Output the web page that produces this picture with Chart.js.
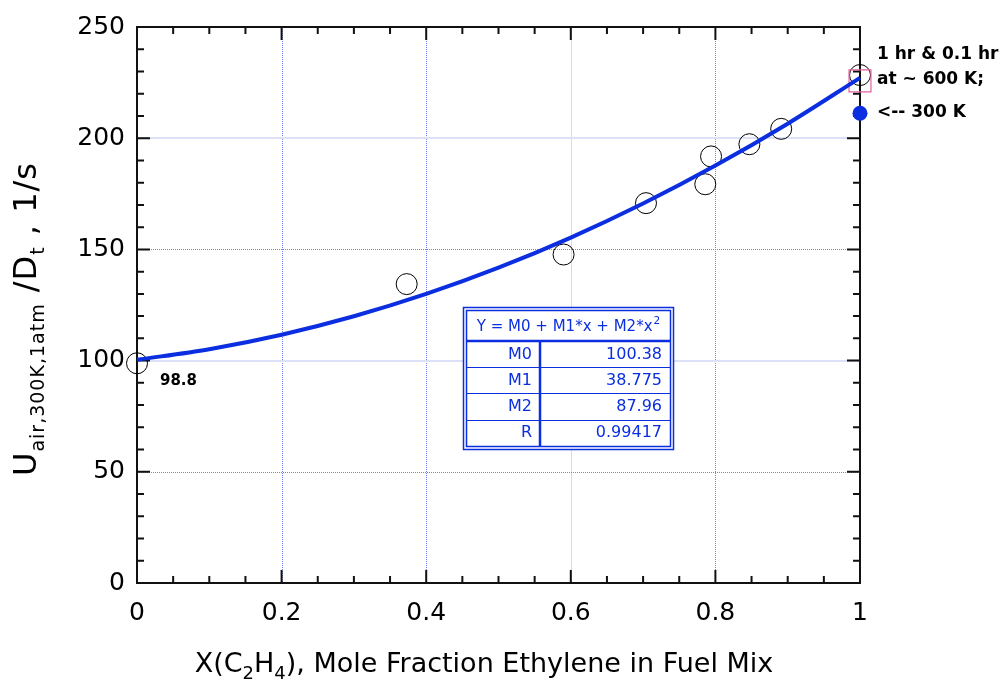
<!DOCTYPE html>
<html>
<head>
<meta charset="utf-8">
<script src="https://cdn.jsdelivr.net/npm/chart.js@4.4.1/dist/chart.umd.min.js"></script>
<style>
  body { margin: 0; background: #fff; }
  canvas { display: block; }
</style>
</head>
<body>
<canvas id="uchart" width="1001" height="682"></canvas>
<script>
// quadratic fit, sampled off the drawn curve
const fitX = [0, 0.1, 0.2, 0.3, 0.4, 0.5, 0.6, 0.7, 0.8, 0.9, 1];
const fitY = [100.38, 105.14, 111.65, 119.93, 129.96, 141.76, 155.31, 170.62, 187.69, 206.53, 227.12];

// measured points (open circles)
const measX = [0, 0.373, 0.590, 0.704, 0.786, 0.794, 0.847, 0.891, 1];
const measY = [98.8, 134.4, 147.7, 170.8, 179.3, 191.8, 197.3, 204.2, 228.4];

// 1 hr & 0.1 hr at ~600 K (pink square), 300 K (filled dot)
const hotX = [1];
const hotY = [225.8];
const coldX = [1];
const coldY = [211.2];

const xTicks = [0, 0.2, 0.4, 0.6, 0.8, 1];
const yTicks = [0, 50, 100, 150, 200, 250];

const fitNames = ['M0', 'M1', 'M2', 'R'];
const fitValues = ['100.38', '38.775', '87.96', '0.99417'];

function pts(xs, ys) {
    return xs.map(function (x, i) { return { x: x, y: ys[i] }; });
}

const BLUE = '#0a2ee0';
const DOT = '#6f82f0';
const FONT = '"DejaVu Sans", Verdana, sans-serif';

const frame = {
    id: 'frame',
    beforeDatasetsDraw(chart) {
        const { ctx, chartArea: { left, right, top, bottom }, scales: { x, y } } = chart;
        ctx.save();
        // grid
        ctx.lineWidth = 1;
        [0.2, 0.4, 0.6, 0.8].forEach(function (v) {
            const px = Math.round(x.getPixelForValue(v)) + 0.5;
            if (v === 0.6) {
                ctx.strokeStyle = '#d4daf6';
                ctx.setLineDash([]);
            } else {
                ctx.strokeStyle = DOT;
                ctx.setLineDash([1, 1]);
            }
            ctx.beginPath();
            ctx.moveTo(px, top);
            ctx.lineTo(px, bottom);
            ctx.stroke();
        });
        [50, 100, 150, 200].forEach(function (v) {
            const py = Math.round(y.getPixelForValue(v));
            if (v === 100 || v === 200) {
                ctx.strokeStyle = '#dde1f8';
                ctx.lineWidth = 2;
                ctx.setLineDash([]);
                ctx.beginPath();
                ctx.moveTo(left, py);
                ctx.lineTo(right, py);
            } else {
                ctx.strokeStyle = DOT;
                ctx.lineWidth = 1;
                ctx.setLineDash([1, 1]);
                ctx.beginPath();
                ctx.moveTo(left, py + 0.5);
                ctx.lineTo(right, py + 0.5);
            }
            ctx.stroke();
        });
        ctx.setLineDash([]);

        // ticks, inward on all four sides
        ctx.strokeStyle = '#111';
        ctx.lineWidth = 2;
        for (let k = 0; k <= 20; k++) {
            const px = x.getPixelForValue(k * 0.05);
            const len = (k % 4 === 0) ? 13 : 7;
            ctx.beginPath();
            ctx.moveTo(px, bottom);
            ctx.lineTo(px, bottom - len);
            ctx.moveTo(px, top);
            ctx.lineTo(px, top + len);
            ctx.stroke();
        }
        for (let k = 0; k <= 25; k++) {
            const py = y.getPixelForValue(k * 10);
            const len = (k % 5 === 0) ? 13 : 7;
            ctx.beginPath();
            ctx.moveTo(left, py);
            ctx.lineTo(left + len, py);
            ctx.moveTo(right, py);
            ctx.lineTo(right - len, py);
            ctx.stroke();
        }
        ctx.strokeRect(left, top, right - left, bottom - top);
        ctx.restore();
    },
    afterDatasetsDraw(chart) {
        const { ctx } = chart;
        ctx.save();
        // fit table
        const L = 466.5, R = 670.5, T = 310.5, B = 446.5;
        ctx.fillStyle = '#fff';
        ctx.fillRect(L - 3, T - 3, R - L + 6, B - T + 6);
        ctx.strokeStyle = BLUE;
        ctx.lineWidth = 1.5;
        ctx.strokeRect(L - 3, T - 3, R - L + 6, B - T + 6);
        ctx.strokeRect(L, T, R - L, B - T);
        ctx.lineWidth = 2.5;
        ctx.beginPath();
        ctx.moveTo(L, 341);
        ctx.lineTo(R, 341);
        ctx.moveTo(540, 341);
        ctx.lineTo(540, B);
        ctx.stroke();
        ctx.lineWidth = 1;
        [367.5, 393.5, 420.5].forEach(function (yy) {
            ctx.beginPath();
            ctx.moveTo(L, yy);
            ctx.lineTo(R, yy);
            ctx.stroke();
        });
        ctx.fillStyle = BLUE;
        ctx.textBaseline = 'middle';
        // header with superscript
        const head = 'Y = M0 + M1*x + M2*x';
        ctx.font = '15px ' + FONT;
        const hw = ctx.measureText(head).width;
        ctx.font = '10.5px ' + FONT;
        const sw = ctx.measureText('2').width;
        const hx = (L + R) / 2 - (hw + sw + 1) / 2;
        ctx.textAlign = 'left';
        ctx.font = '15px ' + FONT;
        ctx.fillText(head, hx, 327);
        ctx.font = '10.5px ' + FONT;
        ctx.fillText('2', hx + hw + 1, 321);
        ctx.font = '16px ' + FONT;
        ctx.textAlign = 'right';
        const rowY = [355, 381, 407, 433];
        fitNames.forEach(function (n, i) {
            ctx.fillText(n, 532, rowY[i]);
            ctx.fillText(fitValues[i], 662, rowY[i]);
        });
        ctx.restore();
    },
    afterDraw(chart) {
        const { ctx } = chart;
        ctx.save();
        ctx.fillStyle = '#000';
        ctx.textBaseline = 'middle';
        ctx.textAlign = 'left';
        ctx.font = 'bold 15px ' + FONT;
        ctx.fillText('98.8', 160, 381);
        ctx.font = 'bold 17px ' + FONT;
        ctx.fillText('1 hr & 0.1 hr', 877, 55);
        ctx.fillText('at ~ 600 K;', 877, 80);
        ctx.fillText('<-- 300 K', 877, 113);

        // x axis title with subscripts
        const parts = [
            ['X(C', 27, 0], ['2', 18, 7], ['H', 27, 0], ['4', 18, 7],
            ['), Mole Fraction Ethylene in Fuel Mix', 27, 0]
        ];
        drawRich(ctx, parts, 484, 662);

        // y axis title, rotated
        const yparts = [
            ['U', 32, 0], ['air,300K,1atm', 19, 8], [' /D', 32, 0], ['t', 19, 8],
            [' , 1/s', 32, 0]
        ];
        ctx.translate(26, 319);
        ctx.rotate(-Math.PI / 2);
        ctx.letterSpacing = '1px';
        drawRich(ctx, yparts, 0, 0);
        ctx.restore();
    }
};

function drawRich(ctx, parts, cx, cy) {
    let total = 0;
    parts.forEach(function (p) {
        ctx.font = p[1] + 'px ' + FONT;
        total += ctx.measureText(p[0]).width;
    });
    let x = cx - total / 2;
    ctx.textAlign = 'left';
    ctx.textBaseline = 'alphabetic';
    parts.forEach(function (p) {
        ctx.font = p[1] + 'px ' + FONT;
        ctx.fillText(p[0], x, cy + 10 + p[2]);
        x += ctx.measureText(p[0]).width;
    });
}

new Chart(document.getElementById('uchart'), {
    type: 'scatter',
    data: {
        datasets: [{
            label: 'fit',
            data: pts(fitX, fitY),
            showLine: true,
            borderColor: BLUE,
            borderWidth: 4,
            pointRadius: 0,
            cubicInterpolationMode: 'monotone',
            clip: false
        },
        {
            label: '600 K',
            data: pts(hotX, hotY),
            pointStyle: 'rect',
            pointRadius: 15.5,
            borderColor: '#e2619c',
            borderWidth: 1.2,
            backgroundColor: 'rgba(0,0,0,0)',
            clip: false
        },
        {
            label: '300 K',
            data: pts(coldX, coldY),
            pointRadius: 7.5,
            borderWidth: 0,
            backgroundColor: BLUE,
            clip: false
        },
        {
            label: 'data',
            data: pts(measX, measY),
            pointRadius: 10.5,
            borderColor: '#000',
            borderWidth: 1,
            backgroundColor: 'rgba(0,0,0,0)',
            clip: false
        },
        ],
    },
    options: {
        responsive: false,
        animation: false,
        events: [],
        layout: {
            padding: { top: 25, right: 141, left: 0, bottom: 0 }
        },
        plugins: {
            legend: { display: false },
            tooltip: { enabled: false }
        },
        scales: {
            x: {
                type: 'linear',
                min: 0,
                max: 1,
                afterBuildTicks: function (scale) {
                    scale.ticks = xTicks.map(function (v) { return { value: v }; });
                },
                afterFit: function (scale) { scale.height = 99; },
                grid: { display: false, drawTicks: false },
                border: { display: false },
                ticks: {
                    color: '#000',
                    padding: 15,
                    maxRotation: 0,
                    font: { family: FONT, size: 25 },
                    callback: function (v) { return String(v); }
                }
            },
            y: {
                min: 0,
                max: 250,
                afterBuildTicks: function (scale) {
                    scale.ticks = yTicks.map(function (v) { return { value: v }; });
                },
                afterFit: function (scale) { scale.width = 137; },
                grid: { display: false, drawTicks: false },
                border: { display: false },
                ticks: {
                    color: '#000',
                    padding: 12,
                    font: { family: FONT, size: 25 },
                    callback: function (v) { return String(v); }
                }
            }
        }
    },
    plugins: [frame]
});
</script>
</body>
</html>
